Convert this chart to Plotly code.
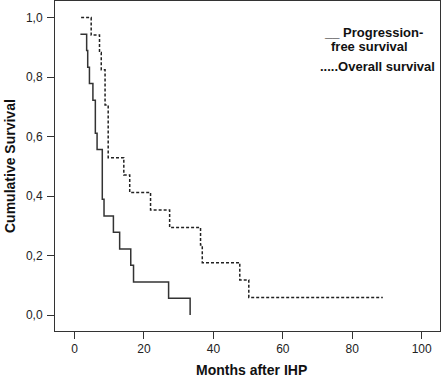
import plotly.graph_objects as go

# Progression-free survival (n=18): step times (months) and survival levels
pfs_months = [1.7, 3.5, 3.8, 4.3, 5.3, 6.0, 6.5, 8.0, 8.5, 11.2, 13.0, 16.2, 17.0, 27.1, 33.3]
pfs_surv = [0.944, 0.889, 0.833, 0.778, 0.722, 0.611, 0.556, 0.389, 0.333, 0.278, 0.222, 0.167, 0.111, 0.056, 0.0]

# Overall survival (n=17)
os_months = [1.9, 4.8, 7.2, 7.7, 8.8, 9.7, 14.2, 15.9, 21.9, 27.4, 36.3, 36.8, 47.6, 50.2, 88.8]
os_surv = [1.0, 0.941, 0.882, 0.824, 0.706, 0.529, 0.471, 0.412, 0.353, 0.294, 0.235, 0.176, 0.118, 0.059, 0.059]

x_ticks = [0, 20, 40, 60, 80, 100]
y_ticks = [0.0, 0.2, 0.4, 0.6, 0.8, 1.0]
y_tick_labels = ["0,0", "0,2", "0,4", "0,6", "0,8", "1,0"]

W, H = 442, 380
ML, MR, MT, MB = 55, 2, 1, 49

fig = go.Figure()
fig.add_trace(go.Scatter(x=pfs_months, y=pfs_surv, mode="lines", line_shape="hv",
                         line=dict(color="#333333", width=1.5), name="Progression-free survival"))
fig.add_trace(go.Scatter(x=os_months, y=os_surv, mode="lines", line_shape="hv",
                         line=dict(color="#222222", width=1.5, dash="3px,2px"), name="Overall survival"))

font_family = "Liberation Sans, Arial, sans-serif"
axis_common = dict(showgrid=False, zeroline=False, showline=True, linecolor="#333333", linewidth=1,
                   mirror=True, ticks="outside", ticklen=7, tickcolor="#333333", automargin=False,
                   tickfont=dict(family=font_family, size=12, color="#222222"))

fig.update_layout(
    width=W, height=H,
    margin=dict(l=ML, r=MR, t=MT, b=MB),
    paper_bgcolor="white", plot_bgcolor="white",
    showlegend=False,
    xaxis=dict(range=[-5.62, 105.27], tickvals=x_ticks, **axis_common),
    yaxis=dict(range=[-0.0538, 1.0555], tickvals=y_ticks, ticktext=y_tick_labels,
               ticklabelstandoff=2, **axis_common),
)

pw, ph = W - ML - MR, H - MT - MB


def px_to_paper(x, y):
    return (x - ML) / pw, 1 - (y - MT) / ph


title_font = dict(family=font_family, size=14, color="#111111")
ann_font = dict(family=font_family, size=13, color="#111111")

texts = [
    ("<b>Months after IHP</b>", 252, 370, "center", 0, title_font),
    ("<b>Cumulative Survival</b>", 10, 166, "center", -90, title_font),
    ("<b>__ Progression-</b>", 322, 32.5, "left", 0, ann_font),
    ("<b>free survival</b>", 329, 46.5, "left", 0, ann_font),
    ("<b>.....Overall survival</b>", 318, 67, "left", 0, ann_font),
]
for t, x, y, xa, ang, f in texts:
    px, py = px_to_paper(x, y)
    fig.add_annotation(x=px, y=py, xref="paper", yref="paper", text=t, showarrow=False,
                       font=f, xanchor=xa, yanchor="middle", textangle=ang)

fig.write_html("out.html", config={"displayModeBar": False},
               post_script="document.body.style.margin='0';document.body.style.overflow='hidden';")
